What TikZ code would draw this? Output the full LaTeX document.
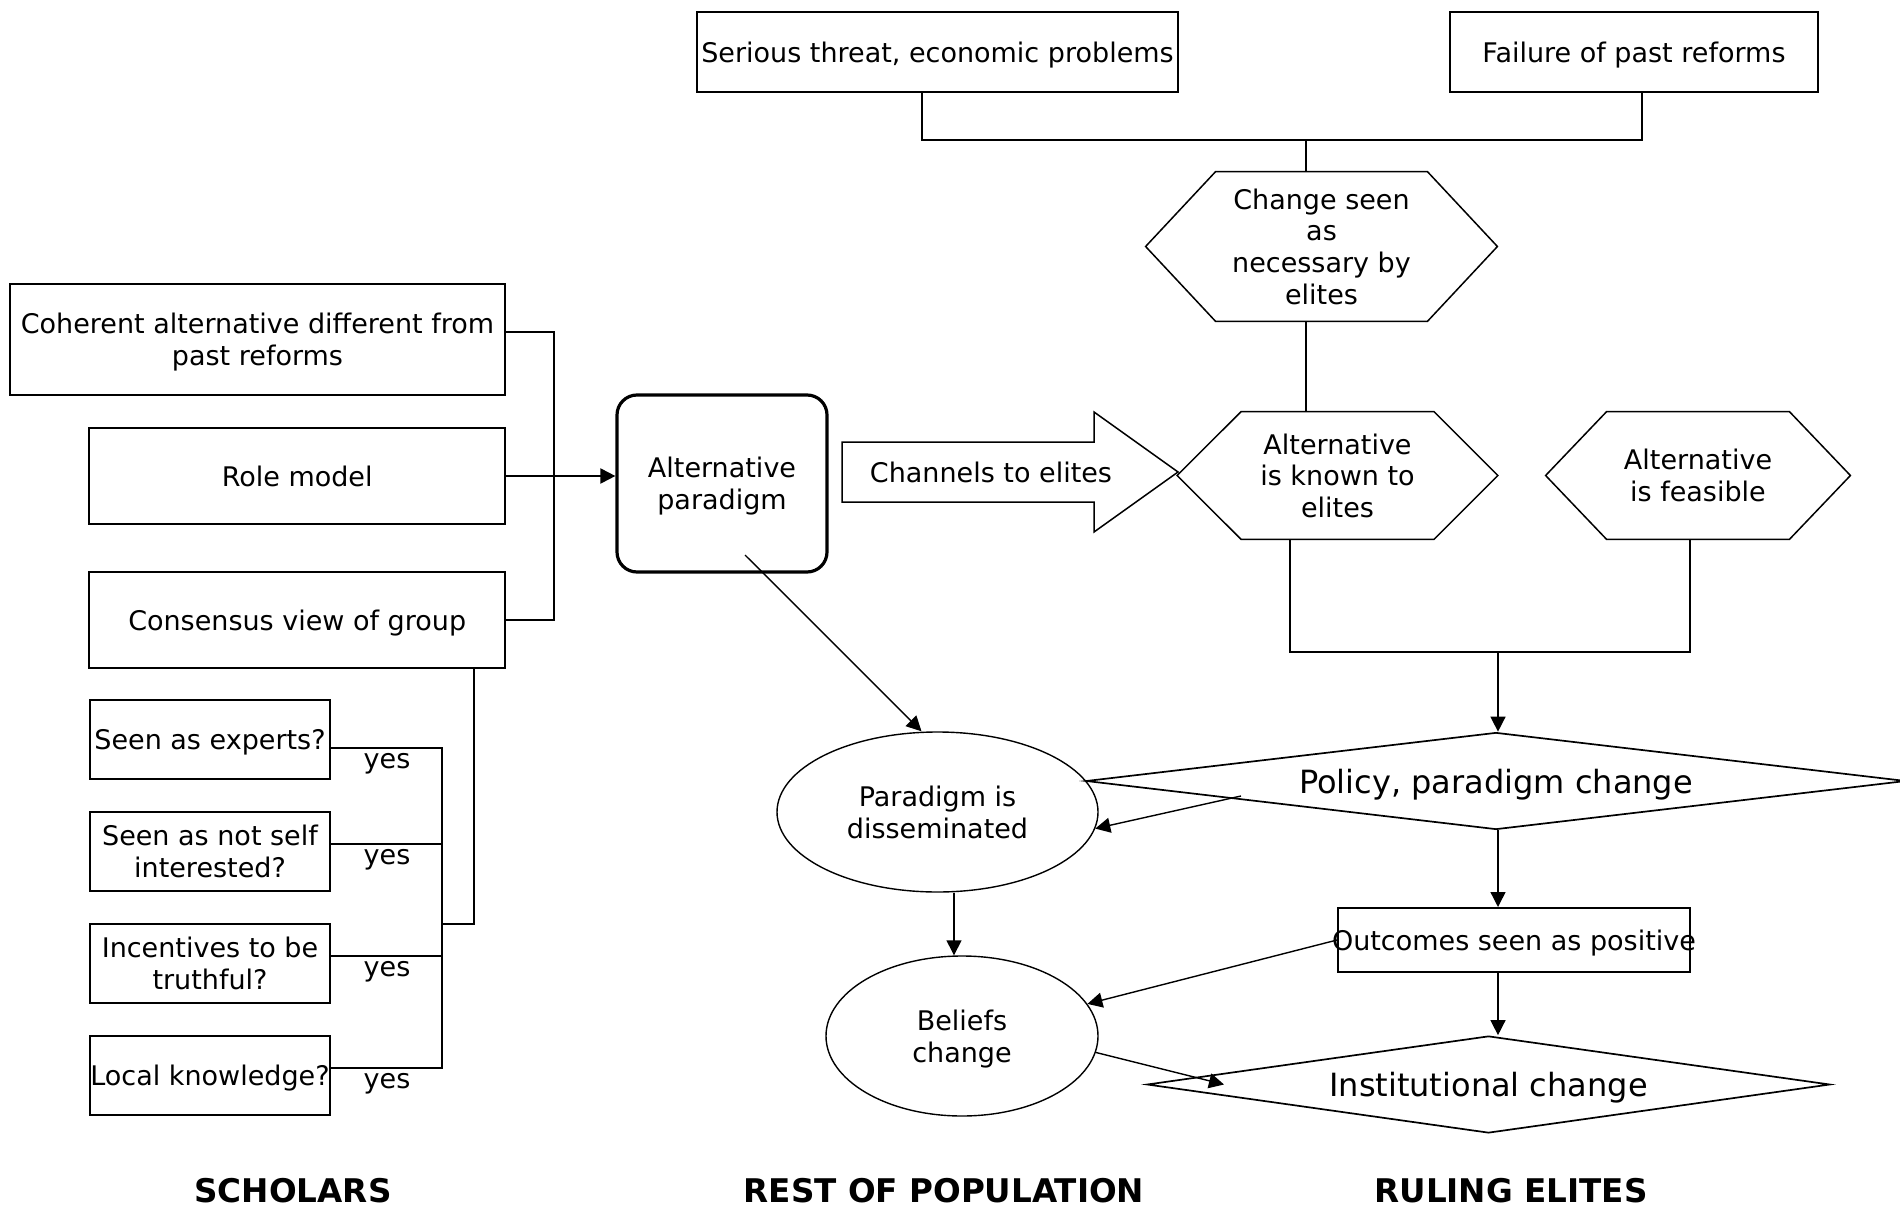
\documentclass[tikz,border=0pt]{standalone}
\usepackage{fontspec}
\setmainfont{DejaVu Sans}
\usepackage{tikz}
\usetikzlibrary{shapes.geometric, arrows.meta}

\newcommand{\boxfont}{\fontsize{13.5}{15.8}\selectfont}
\newcommand{\diamfont}{\fontsize{16}{19}\selectfont}
\newcommand{\headfont}{\fontsize{16.3}{19}\selectfont\bfseries}

\begin{document}
\begin{tikzpicture}[x=0.5pt, y=-0.5pt,
    box/.style={draw, line width=1pt, inner sep=0pt, align=center, text depth=0pt, font=\boxfont},
    qbox/.style={box, minimum width=120pt, minimum height=39.5pt},
    hextext/.style={inner sep=0pt, align=center, text depth=0pt, font=\boxfont},
    hexline/.style={line width=0.75pt, line join=miter},
    ellip/.style={ellipse, draw, line width=0.7pt, inner sep=0pt, align=center, text depth=0pt, font=\boxfont},
    diam/.style={diamond, draw, line width=0.85pt, inner sep=0pt, aspect=8, text depth=0pt, font=\diamfont},
    yeslab/.style={inner sep=0pt, anchor=north, yshift=-2.5pt, font=\boxfont},
    headlab/.style={inner sep=0pt, font=\headfont},
    conn/.style={line width=1pt},
    thinconn/.style={line width=0.7pt},
    arr/.style={line width=0.7pt, -{Triangle[length=7.5pt,width=7.5pt]}}
  ]
  \useasboundingbox (0,0) rectangle (1900,1209);

  % scholars
  \node[box, minimum width=247.5pt, minimum height=55.5pt] (coherent) at (257.5,339.5) {Coherent alternative different from\\past reforms};
  \node[box, minimum width=207.8pt, minimum height=48pt] (rolemodel) at (297.2,476) {Role model};
  \node[box, minimum width=207.8pt, minimum height=48pt] (consensus) at (297.2,620) {Consensus view of group};
  \node[qbox] (experts) at (210,739.5) {Seen as experts?};
  \node[qbox] (selfint) at (210,851.5) {Seen as not self\\interested?};
  \node[qbox] (truthful) at (210,963.5) {Incentives to be\\truthful?};
  \node[qbox] (localkn) at (210,1075.5) {\makebox[120pt]{Local knowledge?}};

  \coordinate (scholjoin) at (554,476);
  \coordinate (qjoin) at (442,924);
  \draw[conn] ([yshift=4pt]coherent.east) -| (scholjoin) |- (consensus.east);
  \draw[conn] ([xshift=88.4pt]consensus.south) |- (qjoin);
  \draw[conn] ([yshift=-4.25pt]experts.east) -| (qjoin);
  \draw[conn] ([yshift=3.75pt]selfint.east) -| (qjoin);
  \draw[conn] ([yshift=3.75pt]truthful.east) -| (qjoin);
  \draw[conn] ([yshift=3.75pt]localkn.east) -| (qjoin);

  \node[yeslab] (yes1) at (387,748) {yes};
  \node[yeslab] (yes2) at (387,844) {yes};
  \node[yeslab] (yes3) at (387,956) {yes};
  \node[yeslab] (yes4) at (387,1068) {yes};

  \node[box, line width=1.6pt, rounded corners=10pt, minimum width=105pt, minimum height=88.5pt] (altpar) at (722,483.5) {Alternative\\paradigm};
  \draw[arr, line width=1pt] (rolemodel.east) -- (rolemodel.east -| altpar.west);

  % channels arrow
  \draw[hexline] (842,442) -- (1094,442) -- (1094,412) -- (1178,472) -- (1094,532) -- (1094,502) -- (842,502) -- cycle;
  \node[hextext] (channels) at (991,472) {Channels to elites};

  % ruling elites
  \node[box, minimum width=240.5pt, minimum height=40pt] (threat) at (937.5,52) {Serious threat, economic problems};
  \node[box, minimum width=184pt, minimum height=40pt] (failure) at (1634,52) {Failure of past reforms};

  \node[hextext, minimum width=175.5pt, minimum height=74.5pt] (need) at (1321.5,246.5) {Change seen\\as\\necessary by\\elites};
  \draw[hexline] (need.west) -- ([xshift=35pt]need.north west) -- ([xshift=-35pt]need.north east) -- (need.east) -- ([xshift=-35pt]need.south east) -- ([xshift=35pt]need.south west) -- cycle;

  \node[hextext, minimum width=160pt, minimum height=63.5pt] (known) at (1337.5,475.5) {Alternative\\is known to\\elites};
  \draw[hexline] (known.west) -- ([xshift=32pt]known.north west) -- ([xshift=-32pt]known.north east) -- (known.east) -- ([xshift=-32pt]known.south east) -- ([xshift=32pt]known.south west) -- cycle;

  \node[hextext, minimum width=152pt, minimum height=63.5pt] (feasible) at (1698,475.5) {Alternative\\is feasible};
  \draw[hexline] (feasible.west) -- ([xshift=30.5pt]feasible.north west) -- ([xshift=-30.5pt]feasible.north east) -- (feasible.east) -- ([xshift=-30.5pt]feasible.south east) -- ([xshift=30.5pt]feasible.south west) -- cycle;

  \coordinate (topjoin) at (1306,140);
  \draw[conn] ([xshift=-7.75pt]threat.south) |- (topjoin);
  \draw[conn] ([xshift=4pt]failure.south) |- (topjoin);
  \draw[thinconn] (topjoin) -- (topjoin |- need.north);
  \draw[thinconn] (topjoin |- need.south) -- (topjoin |- known.north);

  \node[diam, minimum width=410pt, minimum height=48.5pt] (policy) at (1496,781) {Policy, paradigm change};
  \node[box, minimum width=176pt, minimum height=32pt] (outcomes) at (1514,940) {\makebox[176pt]{Outcomes seen as positive}};
  \node[diam, minimum width=341.5pt, minimum height=48.5pt] (instit) at (1488.5,1084.5) {Institutional change};

  \coordinate (elitejoin) at (1498,652);
  \draw[thinconn] ([xshift=-23.75pt]known.south) |- (elitejoin);
  \draw[thinconn] ([xshift=-4pt]feasible.south) |- (elitejoin);
  \draw[arr] (elitejoin) -- (elitejoin |- policy.north);
  \draw[arr] ([xshift=1pt]policy.south) -- ([xshift=-8pt]outcomes.north);
  \draw[arr] ([xshift=-8pt]outcomes.south) -- ([xshift=4.75pt]instit.north);

  % rest of population
  \node[ellip, minimum width=160.5pt, minimum height=80pt] (dissem) at (937.5,812) {Paradigm is\\disseminated};
  \node[ellip, minimum width=136pt, minimum height=80pt] (beliefs) at (962,1036) {Beliefs\\change};

  \draw[arr] ([shift={(11.5pt,-35.75pt)}]altpar.center) -- ([xshift=-8pt]dissem.north);
  \draw[arr] ([shift={(-127.5pt,-7.5pt)}]policy.center) -- (dissem.-6);
  \draw[arr] ([xshift=8.25pt]dissem.south) -- ([xshift=-4pt]beliefs.north);
  \draw[arr] (outcomes.west) -- (beliefs);
  \draw[arr] (beliefs.-7) -- ([xshift=-132.25pt]instit.center);

  \node[headlab] (scholars) at (293,1191) {SCHOLARS};
  \node[headlab] (population) at (944,1191) {REST OF POPULATION};
  \node[headlab] (elites) at (1511,1191) {RULING ELITES};
\end{tikzpicture}
\end{document}
